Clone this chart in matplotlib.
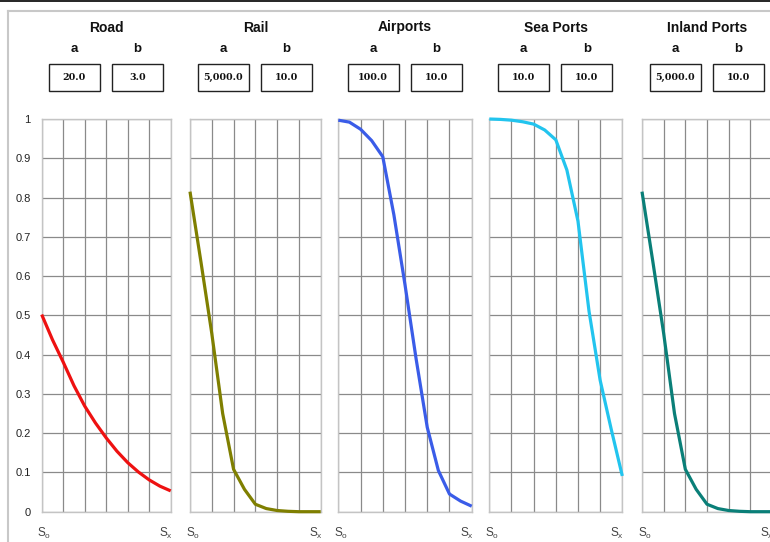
import matplotlib
matplotlib.use("Agg")
import matplotlib.pyplot as plt
from matplotlib.lines import Line2D
from matplotlib.patches import Rectangle

# ---------------- data ----------------
modes = ["Road", "Rail", "Airports", "Sea Ports", "Inland Ports"]
param_a = ["20.0", "5,000.0", "100.0", "10.0", "5,000.0"]
param_b = ["3.0", "10.0", "10.0", "10.0", "10.0"]
colors = ["#EE1111", "#7F7F00", "#3A5CE8", "#22C4EE", "#0A7F78"]

# distance steps between S_o (0) and S_x (12)
steps = [0, 1, 2, 3, 4, 5, 6, 7, 8, 9, 10, 11, 12]

road = [0.502, 0.438, 0.381, 0.321, 0.269, 0.226, 0.188, 0.154, 0.125, 0.101, 0.081, 0.065, 0.053]
rail = [0.815, 0.637, 0.454, 0.250, 0.108, 0.057, 0.019, 0.008, 0.003, 0.001, 0.0, 0.0, 0.0]
airports = [0.997, 0.992, 0.974, 0.945, 0.904, 0.756, 0.578, 0.389, 0.215, 0.105, 0.045, 0.027, 0.014]
sea_ports = [1.0, 0.999, 0.997, 0.993, 0.987, 0.972, 0.947, 0.870, 0.740, 0.510, 0.335, 0.210, 0.091]
inland_ports = [0.815, 0.637, 0.454, 0.250, 0.108, 0.057, 0.019, 0.008, 0.003, 0.001, 0.0, 0.0, 0.0]
series = [road, rail, airports, sea_ports, inland_ports]

y_ticks = [0, 0.1, 0.2, 0.3, 0.4, 0.5, 0.6, 0.7, 0.8, 0.9, 1.0]
y_labels = ["0", "0.1", "0.2", "0.3", "0.4", "0.5", "0.6", "0.7", "0.8", "0.9", "1"]

# ---------------- layout ----------------
W, H = 770, 542
fig = plt.figure(figsize=(W / 100, H / 100), dpi=100)
fig.patch.set_facecolor("white")

panel_x = [(41.7, 170.7), (190.0, 320.7), (338.3, 471.7), (489.3, 622.3), (642.0, 772.0)]
top_px, bot_px = 119.0, 511.7


def fx(px):
    return px / W


def fy(py):
    return 1 - py / H


# frame lines (screenshot borders)
fig.add_artist(Line2D([0, 1], [fy(0.8), fy(0.8)], color="black", lw=1.2))
fig.add_artist(Line2D([fx(7.5), 1], [fy(10.5), fy(10.5)], color="#C8C8C8", lw=1.5))
fig.add_artist(Line2D([fx(7.5), fx(7.5)], [fy(10.5), 0], color="#C8C8C8", lw=1.5))

for i, (name, a, b, col, vals) in enumerate(zip(modes, param_a, param_b, colors, series)):
    x0, x1 = panel_x[i]
    ax = fig.add_axes([fx(x0), fy(bot_px), (x1 - x0) / W, (bot_px - top_px) / H])
    ax.plot(steps, vals, color=col, lw=2.3, solid_capstyle="butt", clip_on=False, zorder=3)
    ax.set_xlim(0, 12)
    ax.set_ylim(0, 1)
    ax.set_xticks([0, 2, 4, 6, 8, 10, 12])
    ax.set_yticks(y_ticks)
    ax.grid(True, color="#8A8A8A", lw=0.9)
    ax.set_axisbelow(True)
    for s in ax.spines.values():
        s.set_color("#C4C4C4")
        s.set_linewidth(1.0)
    ax.tick_params(length=0, labelbottom=False)
    if i == 0:
        ax.set_yticklabels(y_labels, fontsize=8, family="Liberation Sans", color="#222222")
        ax.tick_params(axis="y", pad=8)
    else:
        ax.tick_params(labelleft=False)

    cx = (x0 + x1) / 2
    fig.text(fx(cx), fy(27.5), name, ha="center", va="center", fontsize=10,
             fontweight="bold", family="Liberation Sans", color="#111111")
    for off, lab, val in ((-32, "a", a), (31, "b", b)):
        bx = cx + off
        fig.text(fx(bx), fy(48.5), lab, ha="center", va="center", fontsize=9.5,
                 fontweight="bold", family="Liberation Sans", color="#111111")
        fig.add_artist(Rectangle((fx(bx - 25.5), fy(90.5)), 51 / W, 27 / H,
                                 transform=fig.transFigure, facecolor="white",
                                 edgecolor="#222222", lw=1.0))
        fig.text(fx(bx), fy(77), val, ha="center", va="center", fontsize=6.8,
                 fontweight="bold", family="DejaVu Serif", color="#111111")

    fig.text(fx(x0 - 4.5), fy(533), r"$\mathregular{S_o}$", ha="left", va="center",
             fontsize=8.5, family="Liberation Sans", color="#444444")
    fig.text(fx(x1 + 2), fy(533), r"$\mathregular{S_x}$", ha="right", va="center",
             fontsize=8.5, family="Liberation Sans", color="#444444")

fig.savefig("out.png", dpi=100, facecolor="white")
